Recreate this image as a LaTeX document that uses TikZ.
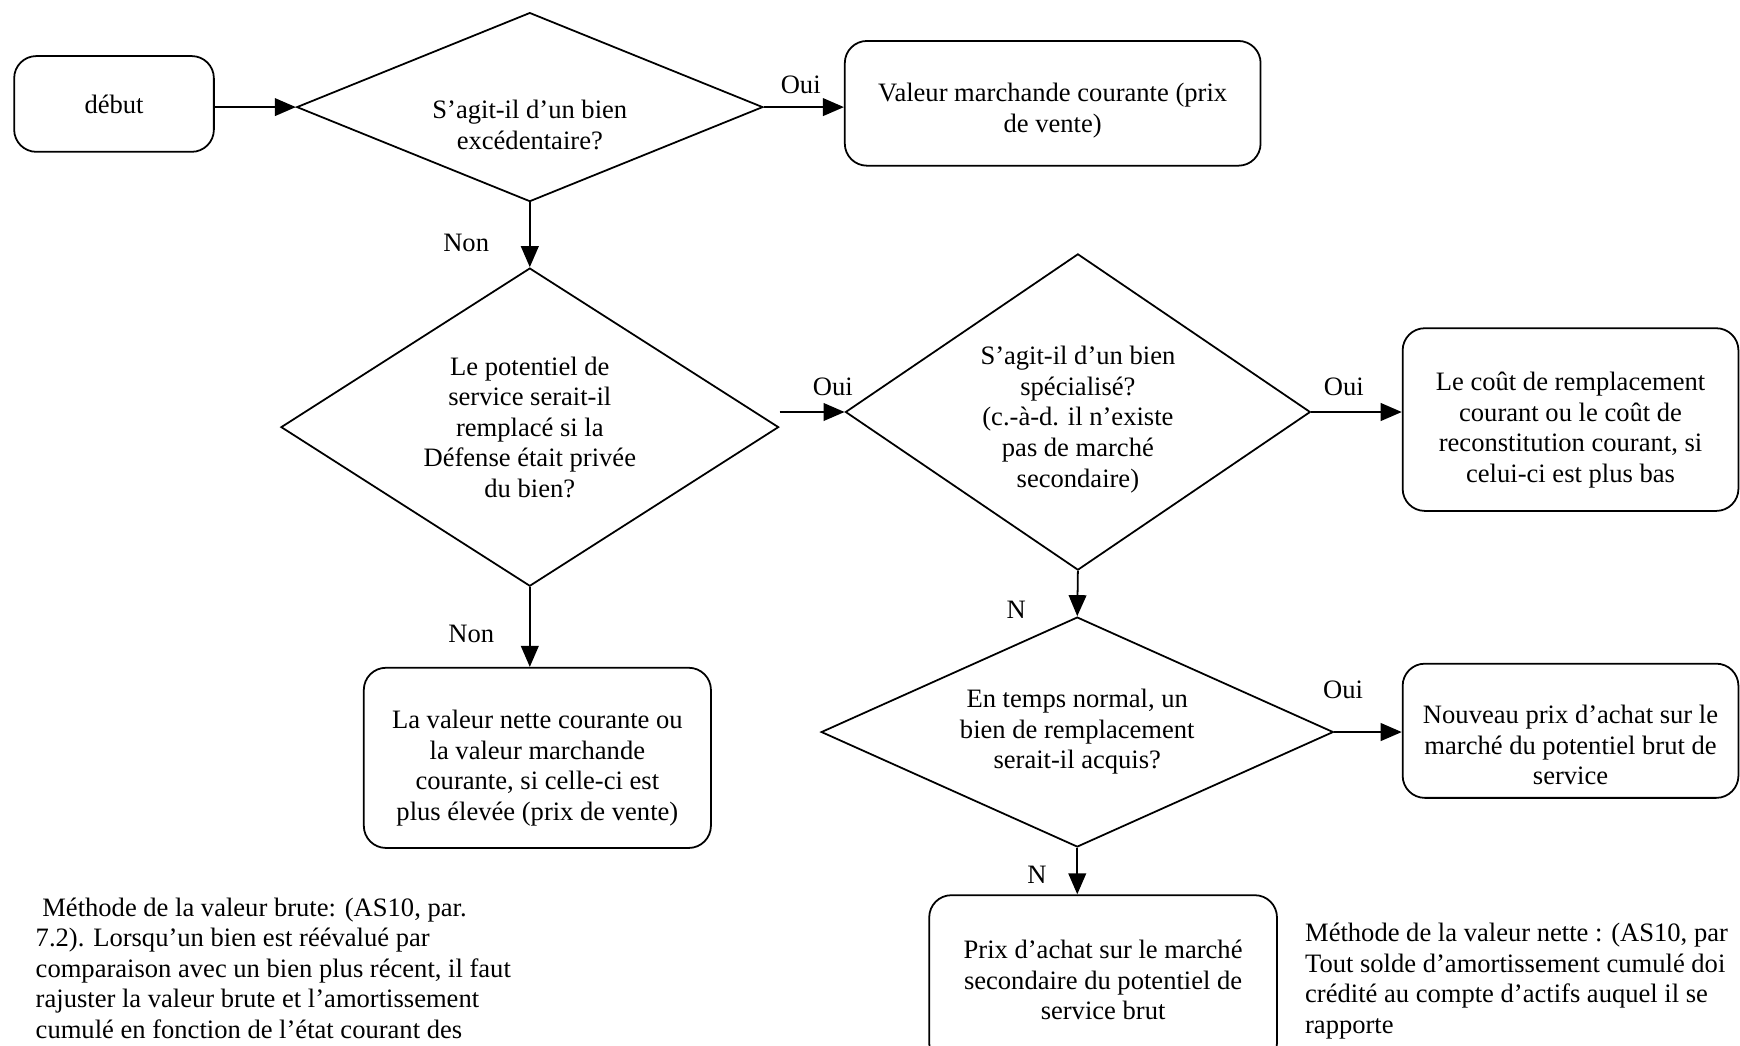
\documentclass[tikz,border=0pt]{standalone}
\usepackage{fontspec}
\setmainfont{Liberation Serif}
\usepackage{tikz}
\usetikzlibrary{positioning, arrows.meta, shapes.geometric}
\tikzset{
  base/.style={font=\fontsize{12pt}{13.8pt}\selectfont, align=center},
  outbox/.style={base, draw, line width=0.8pt, rounded corners=10pt, inner sep=2pt},
  decision/.style={base, draw, line width=0.8pt, diamond, inner sep=0pt},
  arr/.style={-{Triangle[length=9.5pt, width=8pt]}, line width=0.8pt},
  yesno/.style={base, inner sep=1pt},
  note/.style={font=\fontsize{12pt}{13.8pt}\selectfont, align=left, inner sep=0pt, anchor=north west},
}
\begin{document}
\begin{tikzpicture}
  \useasboundingbox (0,0) rectangle (27.62,-16.60);
  \node[outbox, minimum width=3.17cm, minimum height=1.52cm] (debut) at (1.81,-1.65) {début};
  \node[decision, minimum width=7.40cm, minimum height=3.00cm, shape aspect=2.47] (d1) at (8.41,-1.70) {};
  \node[base] (d1txt) at (8.41,-1.98) {S’agit-il d’un bien\\excédentaire?};
  \node[outbox, minimum width=6.60cm, minimum height=1.98cm] (vmc) at (16.71,-1.64) {};
  \node[base] (vmctxt) at (16.71,-1.76) {Valeur marchande courante (prix\\de vente)};
  \node[decision, minimum width=7.90cm, minimum height=5.05cm, shape aspect=1.56] (d2) at (8.41,-6.78)
    {Le potentiel de\\service serait-il\\remplacé si la\\Défense était privée\\du bien?};
  \node[decision, minimum width=7.38cm, minimum height=5.02cm, shape aspect=1.47] (d3) at (17.11,-6.54) {};
  \node[base] (d3txt) at (17.11,-6.66) {S’agit-il d’un bien\\spécialisé?\\(c.-à-d. il n’existe\\pas de marché\\secondaire)};
  \node[outbox, minimum width=5.33cm, minimum height=2.90cm] (crc) at (24.93,-6.66) {};
  \node[base] (crctxt) at (24.93,-6.83)
    {Le coût de remplacement\\courant ou le coût de\\reconstitution courant, si\\celui-ci est plus bas};
  \node[outbox, minimum width=5.51cm, minimum height=2.86cm] (vnc) at (8.53,-12.03) {};
  \node[base] (vnctxt) at (8.53,-12.19)
    {La valeur nette courante ou\\la valeur marchande\\courante, si celle-ci est\\plus élevée (prix de vente)};
  \node[decision, minimum width=8.13cm, minimum height=3.65cm, shape aspect=2.23] (d4) at (17.10,-11.62)
    {En temps normal, un\\bien de remplacement\\serait-il acquis?};
  \node[outbox, minimum width=5.33cm, minimum height=2.13cm] (npa) at (24.93,-11.60) {};
  \node[base] (npatxt) at (24.93,-11.83)
    {Nouveau prix d’achat sur le\\marché du potentiel brut de\\service};
  \node[outbox, minimum width=5.52cm, minimum height=2.70cm] (pas) at (17.51,-15.56)
    {Prix d’achat sur le marché\\secondaire du potentiel de\\service brut};
  % connectors
  \draw[arr] (debut.east |- d1) -- (d1.west);
  \draw[arr] (d1.east) -- (d1.east -| vmc.west);
  \draw[arr] (d1.south) -- (d2.north);
  \draw[arr] (d3.west -| d2.east) -- (d3.west);
  \draw[arr] (d3.east) -- (d3.east -| crc.west);
  \draw[arr] (d2.south) -- (d2.south |- vnc.north);
  \draw[arr] (d3.south) -- (d4.north);
  \draw[arr] (d4.east) -- (d4.east -| npa.west);
  \draw[arr] (d4.south) -- (d4.south |- pas.north);
  \node[yesno] (oui1) at (12.71,-1.35) {Oui};
  \node[yesno] (non1) at (7.40,-3.86) {Non};
  \node[yesno] (oui2) at (13.22,-6.14) {Oui};
  \node[yesno] (oui3) at (21.33,-6.14) {Oui};
  \node[yesno] (non2) at (7.48,-10.06) {Non};
  \node[yesno] (n1) at (16.13,-9.68) {N};
  \node[yesno] (oui4) at (21.32,-10.95) {Oui};
  \node[yesno] (n2) at (16.46,-13.89) {N};
  % notes
  \node[note] (brute) at (0.56,-14.24)
    {\hspace*{0.25em}Méthode de la valeur brute: (AS10, par.\\7.2). Lorsqu’un bien est réévalué par\\comparaison avec un bien plus récent, il faut\\rajuster la valeur brute et l’amortissement\\cumulé en fonction de l’état courant des};
  \node[note] (nette) at (20.71,-14.65)
    {Méthode de la valeur nette : (AS10, par\\Tout solde d’amortissement cumulé doi\\crédité au compte d’actifs auquel il se\\rapporte};
\end{tikzpicture}
\end{document}
